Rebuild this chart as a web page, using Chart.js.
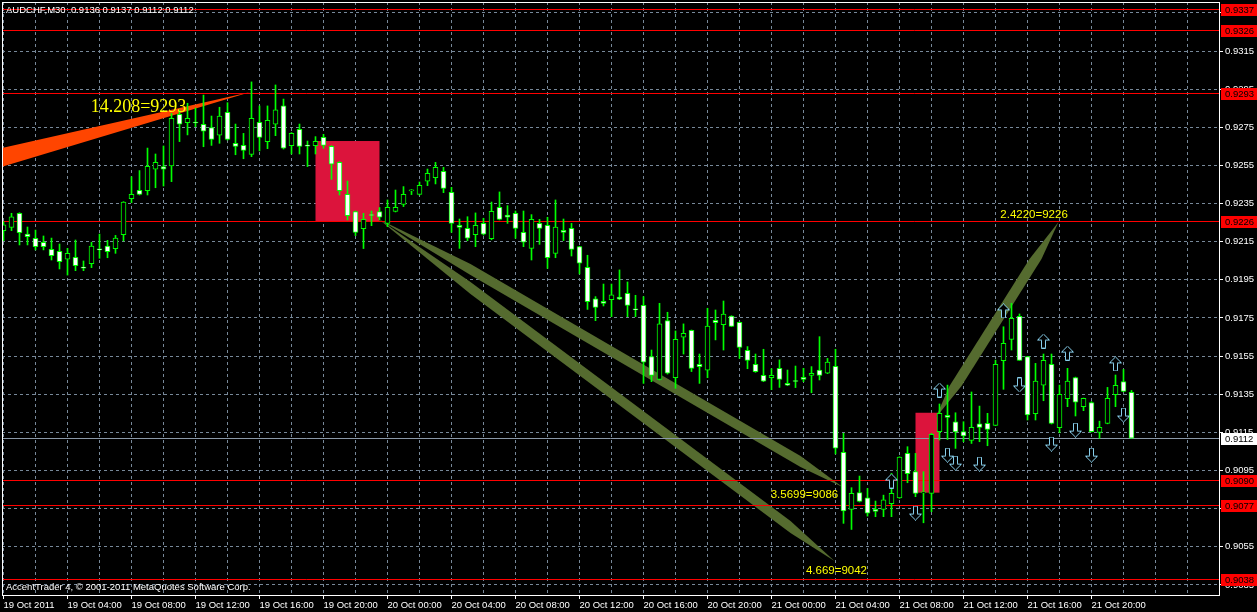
<!DOCTYPE html>
<html>
<head>
<meta charset="utf-8">
<title>AUDCHF,M30</title>
<script src="https://cdn.jsdelivr.net/npm/chart.js@4.4.1/dist/chart.umd.min.js"></script>
<style>
  html, body { margin: 0; padding: 0; background: #000; overflow: hidden; }
  #wrap { width: 1257px; height: 612px; }
</style>
</head>
<body>
<div id="wrap"><canvas id="chart" width="1257" height="612"></canvas></div>
<script>
// ── AUDCHF M30, 19 Oct 2011 00:00 .. 21 Oct 22:30 (one bar = 30 min, index 0..141)
const opens = [
  .92208,.92225,.92299,.92190,.92168,.92147,.92110,.92100,.92058,.92068,
  .92016,.92035,.92112,.92127,.92114,.92187,.92376,.92419,.92418,.92530,
  .92544,.92547,.92818,.92774,.92776,.92766,.92748,.92708,.92828,.92666,
  .92655,.92608,.92776,.92675,.92766,.92862,.92654,.92739,.92655,.92654,
  .92697,.92650,.92566,.92398,.92308,.92218,.92292,.92308,.92246,.92309,
  .92346,.92417,.92398,.92467,.92486,.92519,.92409,.92236,.92220,.92187,
  .92246,.92166,.92330,.92290,.92299,.92199,.92115,.92246,.92236,.92089,
  .92210,.92220,.92124,.92016,.91850,.91837,.91846,.91860,.91879,.91797,
  .91816,.91547,.91428,.91736,.91437,.91649,.91685,.91507,.91476,.91738,
  .91715,.91760,.91727,.91580,.91507,.91449,.91437,.91486,.91407,.91421,
  .91439,.91449,.91477,.91460,.91497,.91045,.90746,.90834,.90807,.90746,
  .90746,.90776,.90807,.91040,.90944,.90834,.90830,.91154,.91239,.91206,
  .91154,.91108,.91195,.91197,.91187,.91526,.91638,.91758,.91547,.91248,
  .91397,.91507,.91175,.91327,.91438,.91285,.91307,.91150,.91197,.91348,
  .91417,.91360
];
const highs = [
  .92255,.92299,.92302,.92227,.92211,.92180,.92169,.92138,.92115,.92159,
  .92049,.92147,.92190,.92157,.92183,.92360,.92491,.92523,.92641,.92610,
  .92652,.92823,.92841,.92876,.92851,.92919,.92809,.92855,.92879,.92767,
  .92718,.92988,.92862,.92862,.92972,.92898,.92722,.92767,.92678,.92701,
  .92713,.92654,.92570,.92468,.92311,.92299,.92311,.92329,.92369,.92421,
  .92439,.92423,.92463,.92531,.92566,.92540,.92435,.92269,.92281,.92301,
  .92273,.92358,.92411,.92339,.92311,.92311,.92292,.92267,.92278,.92369,
  .92269,.92246,.92126,.92079,.91862,.91928,.91928,.92002,.91939,.91869,
  .91862,.91582,.91827,.91780,.91682,.91719,.91687,.91561,.91801,.91792,
  .91839,.91762,.91729,.91600,.91561,.91586,.91484,.91530,.91477,.91498,
  .91486,.91495,.91652,.91538,.91586,.91145,.90860,.90921,.90856,.90790,
  .90821,.90935,.91022,.91075,.91040,.90944,.91145,.91299,.91398,.91253,
  .91206,.91362,.91288,.91250,.91529,.91704,.91827,.91771,.91549,.91512,
  .91561,.91561,.91398,.91486,.91440,.91330,.91311,.91209,.91386,.91451,
  .91480,.91370
];
const lows = [
  .92155,.92208,.92133,.92133,.92107,.92107,.92054,.92007,.91975,.91998,
  .91998,.92014,.92063,.92066,.92089,.92154,.92355,.92395,.92395,.92433,
  .92442,.92465,.92675,.92710,.92753,.92648,.92655,.92666,.92683,.92606,
  .92585,.92596,.92626,.92638,.92706,.92636,.92610,.92610,.92544,.92610,
  .92640,.92477,.92395,.92264,.92182,.92114,.92234,.92264,.92229,.92306,
  .92334,.92397,.92395,.92444,.92453,.92407,.92199,.92115,.92155,.92124,
  .92185,.92160,.92264,.92246,.92168,.92124,.92054,.92136,.92010,.92066,
  .92156,.92075,.91981,.91795,.91736,.91813,.91757,.91846,.91757,.91757,
  .91407,.91416,.91425,.91456,.91381,.91561,.91469,.91407,.91437,.91635,
  .91582,.91705,.91538,.91484,.91465,.91416,.91374,.91386,.91395,.91385,
  .91416,.91358,.91425,.91458,.91037,.90673,.90641,.90785,.90711,.90708,
  .90708,.90708,.90804,.90886,.90813,.90676,.90734,.91110,.91113,.91066,
  .91101,.91092,.91101,.91080,.91185,.91376,.91582,.91528,.91215,.91215,
  .91316,.91194,.91148,.91285,.91236,.91264,.91152,.91119,.91195,.91285,
  .91363,.91120
];
const closes = [
  .92238,.92280,.92197,.92176,.92124,.92124,.92077,.92045,.92089,.92024,
  .92012,.92127,.92108,.92098,.92169,.92358,.92398,.92398,.92545,.92566,
  .92530,.92797,.92766,.92797,.92774,.92729,.92687,.92809,.92687,.92650,
  .92629,.92797,.92697,.92786,.92841,.92640,.92718,.92650,.92652,.92676,
  .92655,.92556,.92418,.92287,.92199,.92267,.92288,.92278,.92330,.92330,
  .92398,.92421,.92446,.92509,.92540,.92430,.92246,.92225,.92168,.92236,
  .92189,.92309,.92267,.92278,.92220,.92147,.92267,.92220,.92066,.92227,
  .92199,.92110,.92037,.91836,.91806,.91827,.91871,.91848,.91816,.91794,
  .91518,.91449,.91719,.91460,.91638,.91670,.91486,.91495,.91708,.91726,
  .91771,.91706,.91596,.91528,.91469,.91418,.91449,.91428,.91397,.91418,
  .91428,.91460,.91449,.91519,.91067,.90738,.90830,.90788,.90727,.90736,
  .90797,.90830,.91021,.90933,.90830,.90837,.91140,.91250,.91229,.91152,
  .91131,.91176,.91176,.91166,.91507,.91617,.91748,.91528,.91241,.91419,
  .91528,.91197,.91349,.91419,.91309,.91328,.91154,.91176,.91328,.91397,
  .91365,.91120
];

// axis ticks
const timeLabels = [
  '19 Oct 2011', '19 Oct 04:00', '19 Oct 08:00', '19 Oct 12:00', '19 Oct 16:00', '19 Oct 20:00',
  '20 Oct 00:00', '20 Oct 04:00', '20 Oct 08:00', '20 Oct 12:00', '20 Oct 16:00', '20 Oct 20:00',
  '21 Oct 00:00', '21 Oct 04:00', '21 Oct 08:00', '21 Oct 12:00', '21 Oct 16:00', '21 Oct 20:00'
];
const barsPerLabel = 8;      // 4 hours of M30 bars
const barsPerGrid = 4;
const priceTicks = [0.9035, 0.9055, 0.9075, 0.9095, 0.9115, 0.9135, 0.9155, 0.9175,
                    0.9195, 0.9215, 0.9235, 0.9255, 0.9275, 0.9295, 0.9315, 0.9335];

// horizontal levels + current bid
const levelPrices = [0.9337, 0.9326, 0.9293, 0.9226, 0.9090, 0.9077, 0.9038];
const bidPrice = 0.9112;

// arrows
const upArrowIdx = [111, 117, 125, 130, 133, 139];
const upArrowPrice = [.90895, .91372, .91787, .91629, .91566, .91509];
const downArrowIdx = [114, 118, 119, 122, 127, 131, 134, 136, 140];
const downArrowPrice = [.90727, .91031, .90989, .90984, .91399, .91089, .91162, .91031, .91241];

// rectangles [from bar, to bar, top price, bottom price]
const zoneFrom = [39, 114];
const zoneTo = [47, 117];
const zoneTop = [.92678, .91253];
const zoneBottom = [.92257, .90834];

// drawn objects, vertices as [bar index, price]
const orangeWedge = [[-0.25, .92641], [30.875, .92935], [-0.25, .92542]];
const fanUpper = [[46.875, .92269], [58.375, .92033], [99.625, .91026], [104.875, .90864], [99.625, .90968], [58.375, .91975]];
const fanLower = [[46.875, .92269], [58.375, .91939], [98.375, .90685], [103.875, .90476], [98.375, .90622], [58.375, .91876]];
const riseBand = [[116.5, .91225], [118.25, .91393], [128.25, .92059], [131.875, .92253], [129.75, .92059], [119.75, .91393]];

// object labels
const noteTexts = ['14.208=9293', '2.4220=9226', '3.5699=9086', '4.669=9042'];
const noteIdx = [10.9, 124.6, 95.9, 100.3];
const notePrice = [.92830, .92274, .90806, .90407];

const xMin = -0.1875, xMax = 151.9375;
const yMin = 0.902973, yMax = 0.934070;

const GREEN = '#00FF00';
const GRID = '#778899';
const UI_FONT = '"Liberation Sans", Arial, sans-serif';

// ─────────────────────────────────────────
//  arrow glyphs (hollow MT4 style)
// ─────────────────────────────────────────
function makeArrow(up) {
    const c = document.createElement('canvas');
    c.width = 13; c.height = 15;
    const g = c.getContext('2d');
    if (!up) { g.translate(0, 15); g.scale(1, -1); }
    g.beginPath();
    g.moveTo(6.5, 0.5);
    g.lineTo(12.5, 6.5);
    g.lineTo(8.5, 6.5);
    g.lineTo(8.5, 14.5);
    g.lineTo(4.5, 14.5);
    g.lineTo(4.5, 6.5);
    g.lineTo(0.5, 6.5);
    g.closePath();
    g.fillStyle = '#000';
    g.fill();
    g.strokeStyle = '#87CEEB';
    g.lineWidth = 1;
    g.stroke();
    return c;
}
const upGlyph = makeArrow(true);
const downGlyph = makeArrow(false);

// candle data for the floating bars
const bodyData = opens.map((o, i) => {
    let lo = Math.min(o, closes[i]), hi = Math.max(o, closes[i]);
    if (hi - lo < 0.00005) { const m = (hi + lo) / 2; lo = m - 0.000027; hi = m + 0.000027; }
    return { x: i, y: [lo, hi] };
});
const bodyFill = opens.map((o, i) => closes[i] > o ? '#000000' : '#FFFFFF');
const wickData = highs.map((h, i) => ({ x: i, y: [lows[i], h] }));

// ─────────────────────────────────────────
//  overlay plugin: objects, levels, frame, texts
// ─────────────────────────────────────────
function polygon(ctx, x, y, pts, color) {
    ctx.beginPath();
    pts.forEach((p, k) => {
        const px = x.getPixelForValue(p[0]), py = y.getPixelForValue(p[1]);
        if (k === 0) ctx.moveTo(px, py); else ctx.lineTo(px, py);
    });
    ctx.closePath();
    ctx.fillStyle = color;
    ctx.fill();
}

const overlay = {
    id: 'overlay',
    beforeDatasetsDraw(chart) {
        const { ctx, chartArea: ca, scales: { x, y } } = chart;
        ctx.save();
        ctx.beginPath();
        ctx.rect(ca.left, ca.top, ca.right - ca.left, ca.bottom - ca.top);
        ctx.clip();

        // rectangles
        ctx.fillStyle = '#DC143C';
        zoneFrom.forEach((f, k) => {
            const x1 = x.getPixelForValue(f), x2 = x.getPixelForValue(zoneTo[k]);
            const y1 = y.getPixelForValue(zoneTop[k]), y2 = y.getPixelForValue(zoneBottom[k]);
            ctx.fillRect(x1, y1, x2 - x1, y2 - y1);
        });

        polygon(ctx, x, y, orangeWedge, '#FF4500');
        polygon(ctx, x, y, fanUpper, '#556B2F');
        polygon(ctx, x, y, fanLower, '#556B2F');
        polygon(ctx, x, y, riseBand, '#556B2F');

        // levels
        ctx.lineWidth = 1;
        ctx.strokeStyle = '#FF0000';
        levelPrices.forEach(p => {
            const py = Math.round(y.getPixelForValue(p)) + 0.5;
            ctx.beginPath(); ctx.moveTo(ca.left, py); ctx.lineTo(ca.right, py); ctx.stroke();
        });
        ctx.strokeStyle = '#8A98A8';
        const by = Math.round(y.getPixelForValue(bidPrice)) + 0.5;
        ctx.beginPath(); ctx.moveTo(ca.left, by); ctx.lineTo(ca.right, by); ctx.stroke();
        ctx.restore();
    },
    afterDraw(chart) {
        const { ctx, chartArea: ca, scales: { x, y }, width } = chart;
        ctx.save();

        // object labels
        ctx.textBaseline = 'alphabetic';
        ctx.textAlign = 'left';
        noteTexts.forEach((t, k) => {
            ctx.font = k === 0 ? '18px "Liberation Serif", "Times New Roman", serif' : '11.5px ' + UI_FONT;
            ctx.fillStyle = '#FFFF00';
            ctx.fillText(t, x.getPixelForValue(noteIdx[k]), y.getPixelForValue(notePrice[k]));
        });

        // title + copyright
        ctx.font = '9.5px ' + UI_FONT;
        ctx.fillStyle = '#FFFFFF';
        ctx.textBaseline = 'middle';
        ctx.fillText('AUDCHF,M30  0.9136 0.9137 0.9112 0.9112', 6, 10.5);
        ctx.fillText('AccentTrader 4, \u00A9 2001-2011 MetaQuotes Software Corp.', 6, 587);

        // frame
        ctx.strokeStyle = '#FFFFFF';
        ctx.lineWidth = 1;
        ctx.strokeRect(ca.left + 0.5, ca.top + 0.5, ca.right - ca.left, ca.bottom - ca.top);

        // price boxes on the right axis
        const boxX = ca.right + 2;
        levelPrices.forEach(p => {
            const py = Math.round(y.getPixelForValue(p));
            ctx.fillStyle = '#FF0000';
            ctx.fillRect(boxX, py - 5, width - boxX, 12);
            ctx.fillStyle = '#000000';
            ctx.fillText(p.toFixed(4), boxX + 4, py + 1);
        });
        const by = Math.round(y.getPixelForValue(bidPrice));
        ctx.fillStyle = '#FFFFFF';
        ctx.fillRect(boxX, by - 5, width - boxX, 12);
        ctx.fillStyle = '#000000';
        ctx.fillText(bidPrice.toFixed(4), boxX + 4, by + 1);
        ctx.restore();
    }
};

function noPadding(s) {
    s.paddingLeft = 0; s.paddingRight = 0; s.paddingTop = 0; s.paddingBottom = 0;
}

// ─────────────────────────────────────────
//  chart
// ─────────────────────────────────────────
new Chart(document.getElementById('chart'), {
    type: 'bar',
    data: {
        datasets: [
            {
                type: 'line', label: 'up', showLine: false, clip: false,
                data: upArrowIdx.map((v, k) => ({ x: v, y: upArrowPrice[k] })),
                pointStyle: upGlyph, pointRadius: 7
            },
            {
                type: 'line', label: 'down', showLine: false, clip: false,
                data: downArrowIdx.map((v, k) => ({ x: v, y: downArrowPrice[k] })),
                pointStyle: downGlyph, pointRadius: 7
            },
            {
                label: 'body', data: bodyData, grouped: false,
                barThickness: 5, backgroundColor: bodyFill,
                borderColor: GREEN, borderWidth: 1, borderSkipped: false
            },
            {
                label: 'wick', data: wickData, grouped: false,
                barThickness: 1, backgroundColor: GREEN, borderWidth: 0
            }
        ]
    },
    options: {
        responsive: false,
        animation: false,
        layout: { autoPadding: false, padding: { left: 2, top: 2, right: 0, bottom: 0 } },
        plugins: { legend: { display: false }, tooltip: { enabled: false } },
        scales: {
            x: {
                type: 'linear', min: xMin, max: xMax, offset: false,
                grid: {
                    offset: false, color: GRID, lineWidth: 1, tickLength: 4,
                    tickColor: c => (c.tick && c.tick.value % barsPerLabel === 0 &&
                        c.tick.value / barsPerLabel < timeLabels.length) ? '#FFFFFF' : 'rgba(0,0,0,0)'
                },
                border: { display: false, dash: [3, 3] },
                ticks: {
                    autoSkip: false, maxRotation: 0, minRotation: 0, align: 'start', padding: 1,
                    color: '#FFFFFF', font: { family: UI_FONT, size: 9.5 },
                    callback: v => (v % barsPerLabel === 0 && v / barsPerLabel < timeLabels.length)
                        ? timeLabels[v / barsPerLabel] : ''
                },
                afterBuildTicks: s => {
                    const t = [];
                    for (let v = 0; v <= xMax; v += barsPerGrid) t.push({ value: v });
                    s.ticks = t;
                },
                afterFit: s => { s.height = 17; noPadding(s); }
            },
            y: {
                position: 'right', min: yMin, max: yMax, beginAtZero: false,
                grid: { color: GRID, lineWidth: 1, tickLength: 4, tickColor: '#FFFFFF' },
                border: { display: false, dash: [3, 3] },
                ticks: {
                    padding: 2, color: '#FFFFFF', font: { family: UI_FONT, size: 9.5 },
                    callback: v => v.toFixed(4)
                },
                afterBuildTicks: s => { s.ticks = priceTicks.map(v => ({ value: v })); },
                afterFit: s => { s.width = 38; noPadding(s); }
            }
        }
    },
    plugins: [overlay]
});
</script>
</body>
</html>
